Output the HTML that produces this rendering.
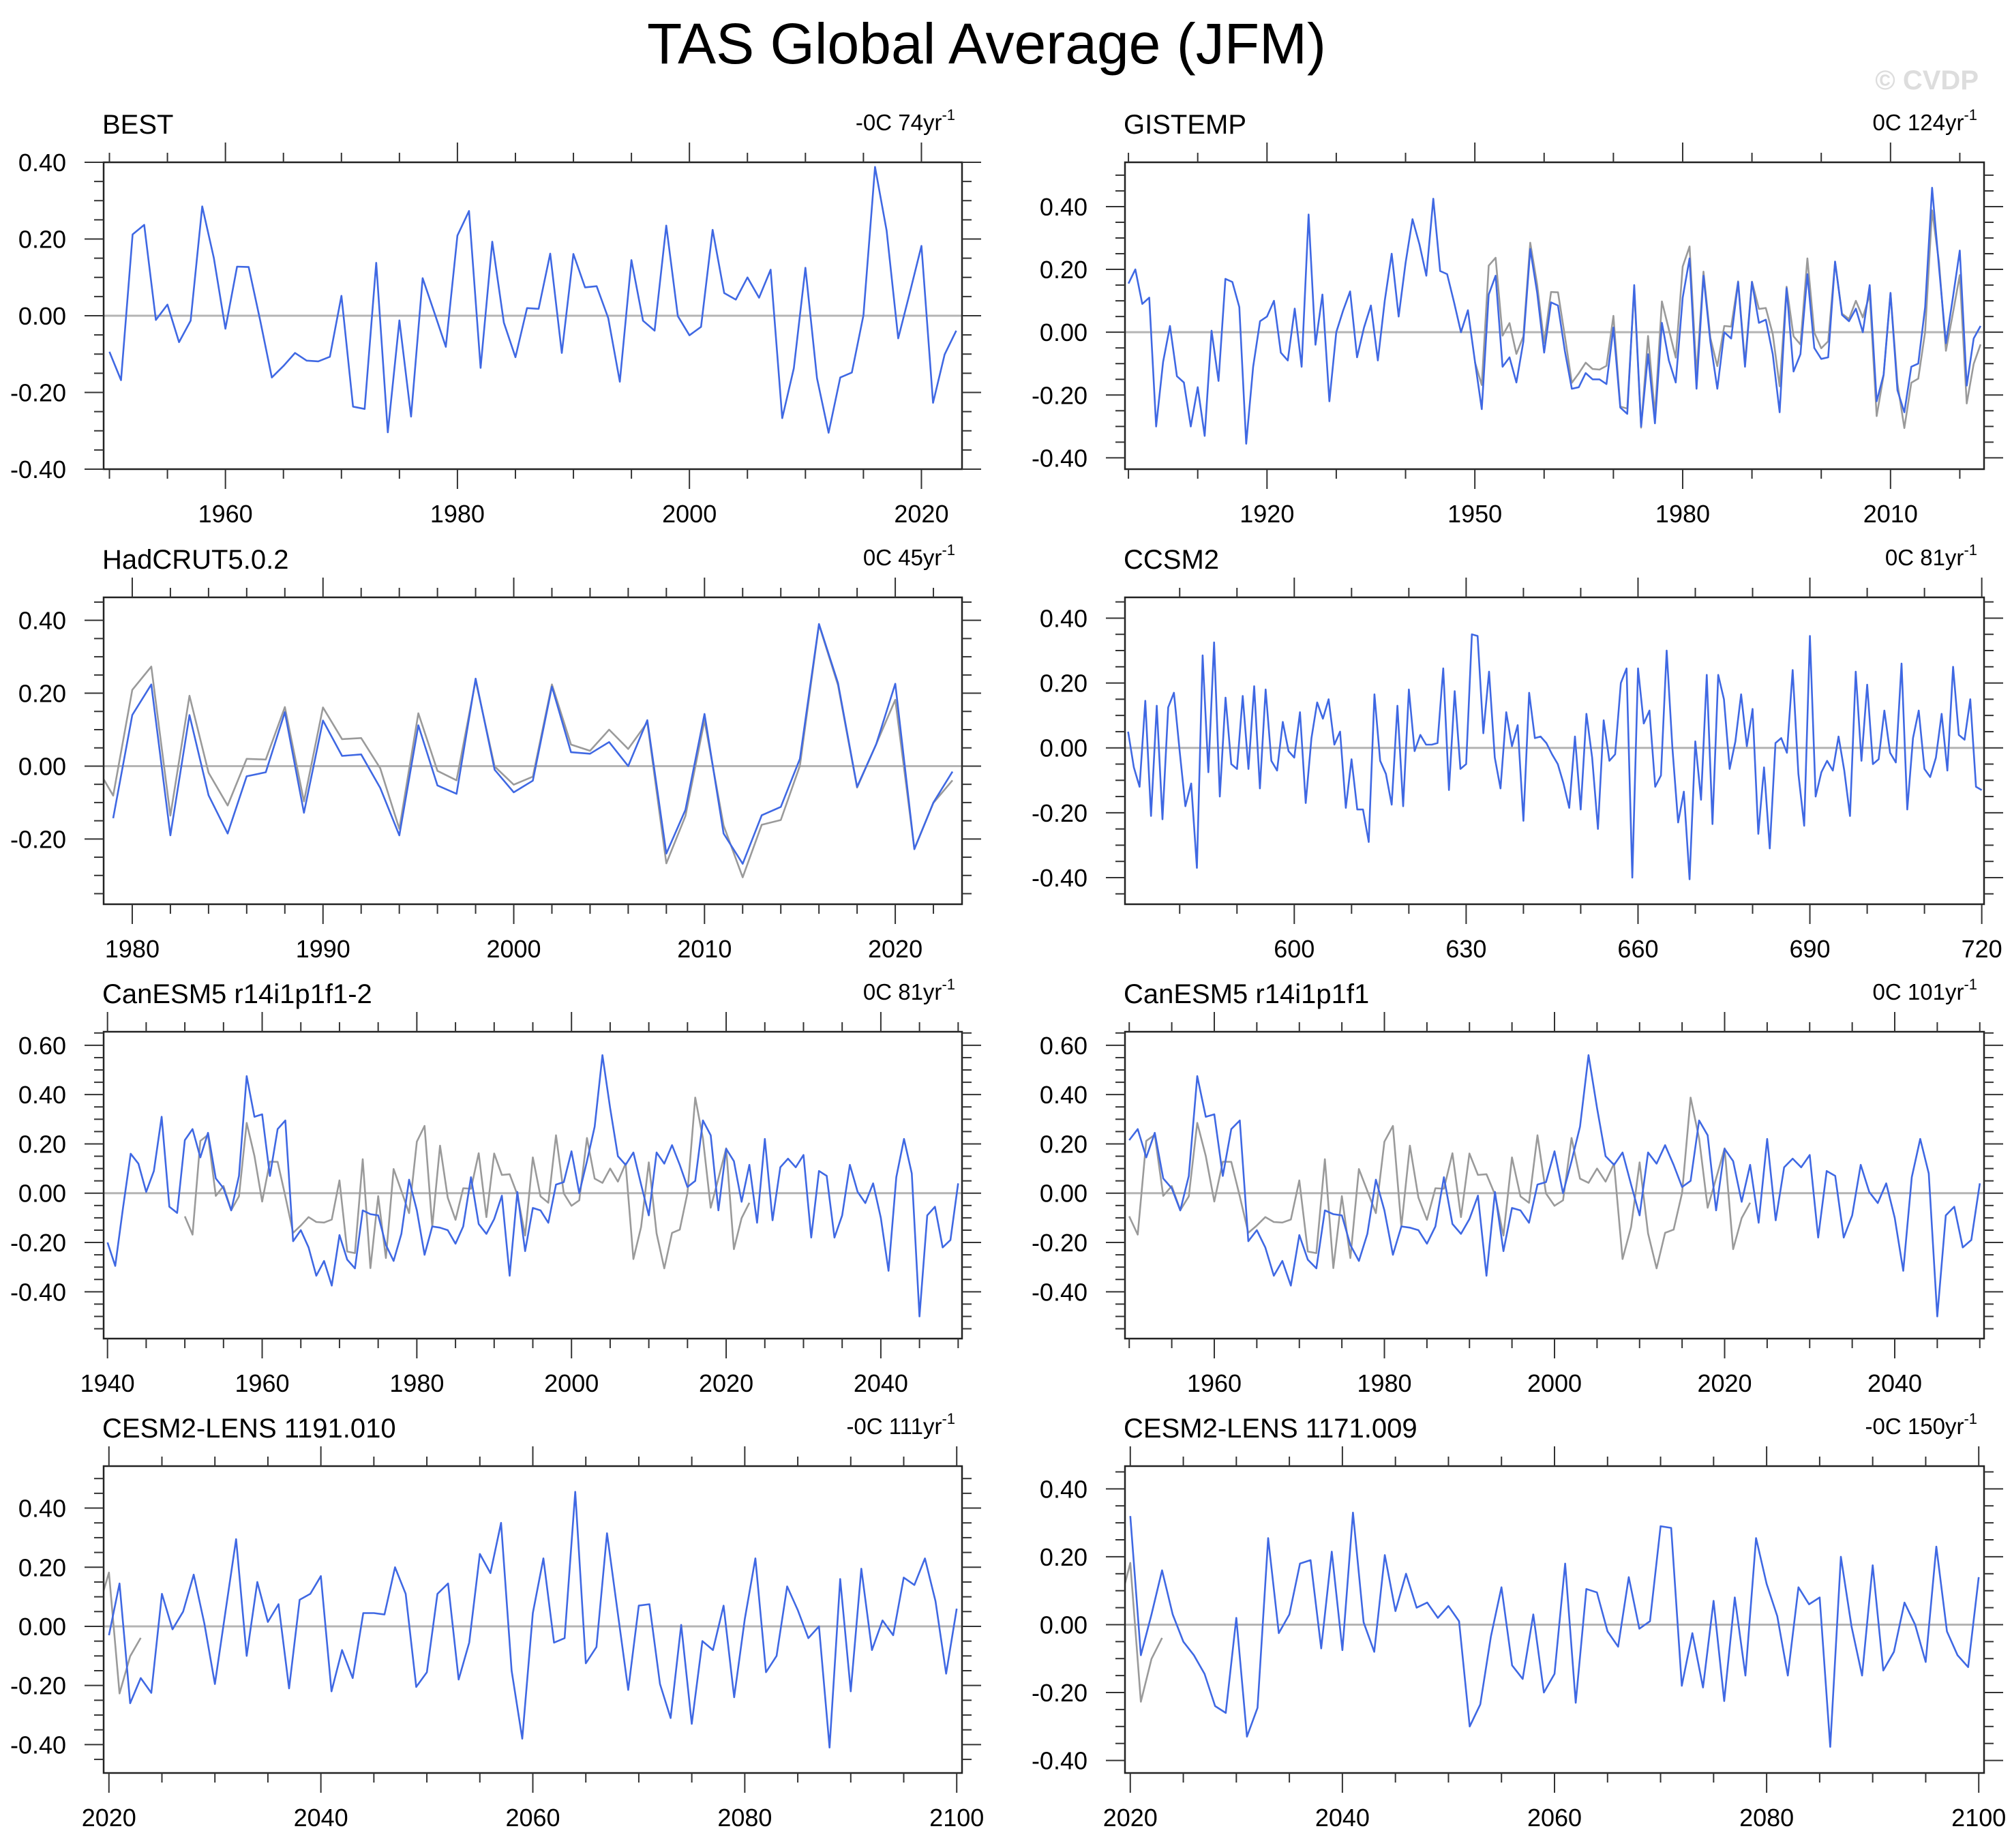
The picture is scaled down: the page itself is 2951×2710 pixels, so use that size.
<!DOCTYPE html>
<html>
<head>
<meta charset="utf-8">
<style>
html,body{margin:0;padding:0;background:#fff;}
svg{display:block;}
text{font-family:"Liberation Sans",Arial,sans-serif;fill:#000;}
</style>
</head>
<body>
<svg id="fig" xmlns="http://www.w3.org/2000/svg" width="2951" height="2710" viewBox="0 0 2951 2710">
<rect x="0" y="0" width="2951" height="2710" fill="#fff"/>
<text x="1447" y="93" font-size="84" text-anchor="middle">TAS Global Average (JFM)</text>
<text x="2902" y="131" font-size="40" font-weight="bold" text-anchor="end" style="fill:#dddddd">© CVDP</text>
</svg>
<script>
// ---- data ----
const bestStart = 1950;
const bestVals = [-0.094,-0.168,0.212,0.237,-0.011,0.029,-0.069,-0.013,0.285,0.151,-0.034,0.128,0.127,-0.013,-0.161,-0.131,-0.097,-0.117,-0.119,-0.107,0.052,-0.237,-0.243,0.138,-0.304,-0.012,-0.263,0.098,0.009,-0.081,0.209,0.273,-0.136,0.193,-0.018,-0.108,0.02,0.018,0.162,-0.097,0.161,0.074,0.077,-0.006,-0.172,0.145,-0.013,-0.039,0.235,-0.001,-0.051,-0.029,0.224,0.059,0.042,0.1,0.047,0.12,-0.267,-0.137,0.125,-0.163,-0.305,-0.161,-0.148,0.001,0.388,0.222,-0.059,0.06,0.182,-0.227,-0.101,-0.039];

const gisStart = 1900;
const gisVals = [0.155,0.20,0.09,0.11,-0.30,-0.095,0.02,-0.14,-0.16,-0.30,-0.175,-0.33,0.005,-0.155,0.17,0.16,0.08,-0.355,-0.11,0.035,0.05,0.10,-0.065,-0.09,0.075,-0.11,0.375,-0.04,0.12,-0.22,0.0,0.07,0.13,-0.08,0.015,0.085,-0.09,0.10,0.25,0.05,0.22,0.36,0.28,0.18,0.425,0.195,0.185,0.095,0.0,0.07,-0.09,-0.245,0.12,0.18,-0.11,-0.08,-0.16,-0.03,0.265,0.125,-0.065,0.095,0.085,-0.06,-0.18,-0.175,-0.13,-0.15,-0.15,-0.165,0.015,-0.24,-0.26,0.15,-0.30,-0.07,-0.29,0.03,-0.09,-0.16,0.11,0.235,-0.18,0.18,-0.03,-0.18,0.0,-0.02,0.16,-0.11,0.16,0.03,0.04,-0.07,-0.255,0.14,-0.125,-0.07,0.185,-0.05,-0.085,-0.08,0.225,0.055,0.035,0.075,0.0,0.15,-0.22,-0.135,0.125,-0.185,-0.255,-0.11,-0.10,0.08,0.46,0.205,-0.035,0.11,0.26,-0.17,-0.02,0.02];

const hadStart = 1979;
const hadVals = [-0.143,0.14,0.224,-0.19,0.14,-0.08,-0.185,-0.028,-0.017,0.148,-0.128,0.125,0.028,0.032,-0.06,-0.19,0.112,-0.053,-0.076,0.24,-0.01,-0.072,-0.04,0.218,0.038,0.034,0.066,0.0,0.126,-0.24,-0.12,0.143,-0.185,-0.268,-0.135,-0.112,0.02,0.39,0.228,-0.057,0.06,0.226,-0.228,-0.10,-0.015];

const ccsmStart = 571;
const ccsmVals = [0.05,-0.06,-0.12,0.145,-0.21,0.13,-0.22,0.125,0.17,-0.01,-0.18,-0.11,-0.37,0.285,-0.075,0.325,-0.15,0.155,-0.05,-0.065,0.16,-0.065,0.19,-0.125,0.18,-0.04,-0.07,0.08,-0.01,-0.03,0.11,-0.17,0.03,0.14,0.09,0.15,0.01,0.05,-0.185,-0.035,-0.19,-0.19,-0.29,0.165,-0.04,-0.08,-0.175,0.13,-0.18,0.18,-0.01,0.04,0.01,0.01,0.015,0.245,-0.13,0.175,-0.065,-0.05,0.35,0.345,0.045,0.235,-0.03,-0.125,0.11,0.005,0.07,-0.225,0.17,0.03,0.035,0.015,-0.02,-0.05,-0.11,-0.185,0.035,-0.19,0.105,-0.03,-0.25,0.085,-0.04,-0.02,0.20,0.245,-0.40,0.245,0.075,0.115,-0.12,-0.085,0.30,0.0,-0.23,-0.135,-0.405,0.02,-0.16,0.225,-0.235,0.225,0.15,-0.065,0.02,0.165,0.005,0.12,-0.265,-0.06,-0.31,0.015,0.03,-0.015,0.24,-0.08,-0.24,0.345,-0.15,-0.075,-0.04,-0.07,0.035,-0.07,-0.21,0.235,-0.04,0.195,-0.05,-0.035,0.115,-0.015,-0.045,0.26,-0.19,0.03,0.115,-0.065,-0.09,-0.03,0.105,-0.07,0.25,0.04,0.025,0.15,-0.12,-0.13];

const canStart = 1940;
const canVals = [-0.20,-0.295,-0.06,0.16,0.12,0.005,0.09,0.31,-0.055,-0.08,0.215,0.26,0.145,0.245,0.06,0.02,-0.07,0.07,0.475,0.31,0.32,0.07,0.26,0.295,-0.195,-0.15,-0.22,-0.335,-0.275,-0.375,-0.17,-0.27,-0.305,-0.07,-0.085,-0.09,-0.21,-0.275,-0.165,0.055,-0.07,-0.25,-0.135,-0.14,-0.15,-0.205,-0.135,0.065,-0.125,-0.165,-0.105,-0.01,-0.335,0.005,-0.235,-0.06,-0.07,-0.12,0.035,0.045,0.17,0.0,0.13,0.27,0.56,0.345,0.15,0.115,0.165,0.035,-0.09,0.165,0.12,0.195,0.115,0.025,0.05,0.295,0.235,-0.07,0.18,0.13,-0.035,0.115,-0.12,0.22,-0.11,0.105,0.14,0.105,0.155,-0.18,0.09,0.07,-0.18,-0.09,0.115,0.005,-0.04,0.04,-0.10,-0.315,0.065,0.22,0.08,-0.50,-0.09,-0.055,-0.22,-0.19,0.04];

const cesmAStart = 2020;
const cesmAVals = [-0.03,0.145,-0.26,-0.175,-0.225,0.11,-0.01,0.05,0.175,0.01,-0.195,0.05,0.295,-0.10,0.15,0.015,0.075,-0.21,0.09,0.11,0.17,-0.22,-0.08,-0.175,0.045,0.045,0.04,0.20,0.11,-0.205,-0.155,0.11,0.145,-0.18,-0.055,0.245,0.18,0.35,-0.15,-0.38,0.045,0.23,-0.055,-0.04,0.455,-0.125,-0.07,0.315,0.05,-0.215,0.07,0.075,-0.195,-0.31,0.005,-0.33,-0.05,-0.08,0.07,-0.24,0.025,0.23,-0.155,-0.10,0.135,0.055,-0.04,0.0,-0.41,0.16,-0.22,0.195,-0.08,0.02,-0.03,0.165,0.14,0.23,0.085,-0.16,0.06];

const cesmBStart = 2020;
const cesmBVals = [0.32,-0.09,0.03,0.16,0.03,-0.05,-0.09,-0.145,-0.24,-0.26,0.02,-0.33,-0.245,0.255,-0.025,0.03,0.18,0.19,-0.07,0.215,-0.075,0.33,0.007,-0.08,0.205,0.04,0.15,0.05,0.065,0.02,0.055,0.01,-0.30,-0.235,-0.035,0.11,-0.12,-0.16,0.03,-0.20,-0.145,0.18,-0.23,0.105,0.095,-0.02,-0.065,0.14,-0.012,0.01,0.29,0.285,-0.18,-0.025,-0.185,0.07,-0.225,0.08,-0.15,0.255,0.12,0.025,-0.15,0.11,0.06,0.08,-0.36,0.20,-0.005,-0.15,0.175,-0.135,-0.08,0.065,0.0,-0.11,0.23,-0.02,-0.09,-0.125,0.14];

const panelTitles = ["BEST","GISTEMP","HadCRUT5.0.2","CCSM2","CanESM5 r14i1p1f1-2","CanESM5 r14i1p1f1","CESM2-LENS 1191.010","CESM2-LENS 1171.009"];
const trendLabels = ["-0C 74yr","0C 124yr","0C 45yr","0C 81yr","0C 81yr","0C 101yr","-0C 111yr","-0C 150yr"];
const seriesStarts = [bestStart,gisStart,hadStart,ccsmStart,canStart,1950,cesmAStart,cesmBStart];
const seriesVals = [bestVals,gisVals,hadVals,ccsmVals,canVals,canVals.slice(10),cesmAVals,cesmBVals];
const showObs = [false,true,true,false,true,true,true,true];
const yTickLabels = ["-0.40","-0.20","0.00","0.20","0.40","0.60"];

// ---- layout (not data) ----
const colX = [[152,1411],[1650,2910]];
const rowTop = [238,876,1513,2150];
const boxH = 450;
const cfg = [
 {x0:1949.5,x1:2023.5,y0:-0.4,y1:0.4,xmaj:20,xmin:5},
 {x0:1899.5,x1:2023.5,y0:-0.436,y1:0.541,xmaj:30,xmin:10},
 {x0:1978.5,x1:2023.5,y0:-0.379,y1:0.463,xmaj:10,xmin:2},
 {x0:570.45,x1:720.4,y0:-0.482,y1:0.464,xmaj:30,xmin:10},
 {x0:1939.5,x1:2050.5,y0:-0.590,y1:0.655,xmaj:20,xmin:5},
 {x0:1949.5,x1:2050.5,y0:-0.590,y1:0.655,xmaj:20,xmin:5},
 {x0:2019.5,x1:2100.5,y0:-0.496,y1:0.542,xmaj:20,xmin:5},
 {x0:2019.5,x1:2100.5,y0:-0.437,y1:0.467,xmaj:20,xmin:5}
];

const NS = "http://www.w3.org/2000/svg";
const svg = document.getElementById("fig");
function mk(tag, attrs, parent){
  const e = document.createElementNS(NS, tag);
  for (const k in attrs) e.setAttribute(k, attrs[k]);
  (parent||svg).appendChild(e);
  return e;
}

for (let p = 0; p < 8; p++){
  const c = cfg[p];
  const col = p % 2, row = Math.floor(p/2);
  const L = colX[col][0], R = colX[col][1], T = rowTop[row], B = T + boxH;
  const sx = v => L + (v - c.x0) / (c.x1 - c.x0) * (R - L);
  const sy = v => B - (v - c.y0) / (c.y1 - c.y0) * (B - T);

  const g = mk("g", {});
  
  

  const cp = mk("clipPath", {id:"clip"+p}, g);
  mk("rect", {x:L, y:T, width:R-L, height:B-T}, cp);

  const zl = mk("line", {x1:L, x2:R, y1:sy(0), y2:sy(0), stroke:"#b4b4b4", "stroke-width":3}, g);
  
  

  if (showObs[p]){
    let d = "";
    bestVals.forEach((v,i)=>{ d += (i?"L":"M") + sx(bestStart+i).toFixed(1) + "," + sy(v).toFixed(1); });
    const gl = mk("path", {d:d, fill:"none", stroke:"#9a9a9a", "stroke-width":2.6, "clip-path":"url(#clip"+p+")", "stroke-linejoin":"round"}, g);
    
    
  }
  {
    let d = "";
    const st = seriesStarts[p];
    seriesVals[p].forEach((v,i)=>{ d += (i?"L":"M") + sx(st+i).toFixed(1) + "," + sy(v).toFixed(1); });
    const bl = mk("path", {d:d, fill:"none", stroke:"#3f68e3", "stroke-width":2.6, "clip-path":"url(#clip"+p+")", "stroke-linejoin":"round"}, g);
    
    
  }

  const box = mk("rect", {x:L, y:T, width:R-L, height:B-T, fill:"none", stroke:"#222", "stroke-width":2.5}, g);
  
  

  const xs = Math.ceil(c.x0 / c.xmin) * c.xmin;
  for (let v = xs; v <= c.x1; v += c.xmin){
    const isMaj = (Math.round(v) % c.xmaj) === 0;
    const len = isMaj ? 29 : 14;
    const x = sx(v);
    mk("line", {x1:x, x2:x, y1:B, y2:B+len, stroke:"#333", "stroke-width":2}, g);
    mk("line", {x1:x, x2:x, y1:T, y2:T-len, stroke:"#333", "stroke-width":2}, g);
    if (isMaj){
      const t = mk("text", {x:x, y:B+78, "font-size":36, "text-anchor":"middle"}, g);
      t.textContent = String(Math.round(v));
      
      
    }
  }
  for (let k = Math.ceil(c.y0/0.05 - 1e-6); k*0.05 <= c.y1 + 1e-6; k++){
    const v = k*0.05;
    const isMaj = (k % 4) === 0;
    const len = isMaj ? 28 : 14;
    const y = sy(v);
    mk("line", {x1:L-len, x2:L, y1:y, y2:y, stroke:"#333", "stroke-width":2}, g);
    mk("line", {x1:R, x2:R+len, y1:y, y2:y, stroke:"#333", "stroke-width":2}, g);
    if (isMaj){
      const idx = k/4 + 2;
      const t = mk("text", {x:L-55, y:y+13, "font-size":36, "text-anchor":"end"}, g);
      t.textContent = yTickLabels[idx];
      
      
    }
  }
  const tt = mk("text", {x:L-2, y:T-42, "font-size":40}, g);
  tt.textContent = panelTitles[p];
  
  

  const tr = mk("text", {x:R-10, y:T-47, "font-size":33, "text-anchor":"end"}, g);
  
  
  const s1 = mk("tspan", {}, tr);
  s1.textContent = trendLabels[p];
  const s2 = mk("tspan", {dy:-15, "font-size":22}, tr);
  s2.textContent = "-1";
}
</script>
</body>
</html>
